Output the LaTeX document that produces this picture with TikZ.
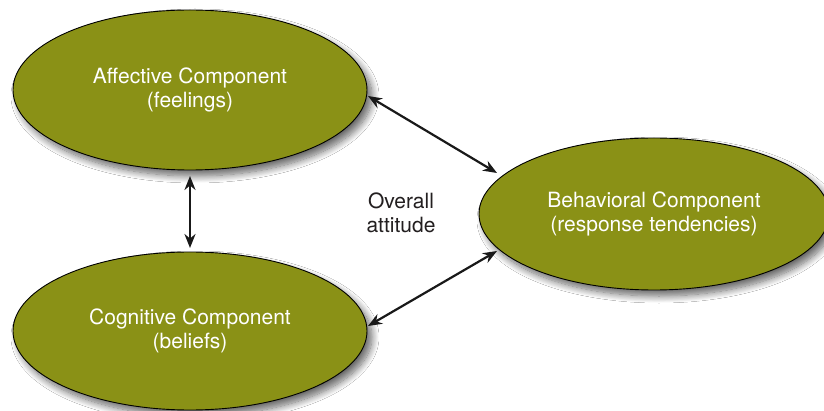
\documentclass[tikz,border=0pt]{standalone}
\usepackage{fontspec}
\setmainfont{TeX Gyre Heros}
\usetikzlibrary{shapes.geometric,arrows.meta,shadows.blur}
\definecolor{olive}{RGB}{138,145,22}
\definecolor{txtgray}{RGB}{35,31,32}
\tikzset{
  comp/.style={ellipse, draw=black, line width=0.9pt, fill=olive, text=white,
    align=center, font=\fontsize{21}{24}\selectfont, inner sep=0pt,
    blur shadow={shadow xshift=5pt, shadow yshift=-6pt, shadow blur steps=12, shadow blur radius=7pt, shadow opacity=60}},
  link/.style={{Stealth[length=14pt,width=11pt]}-{Stealth[length=14pt,width=11pt]}, line width=2.2pt, draw=black!90}
}
\begin{document}
\begin{tikzpicture}[x=1pt,y=-1pt]
\useasboundingbox[fill=white] (0,0) rectangle (824,411);
\node[comp, minimum width=354pt, minimum height=160pt] (aff) at (190,90) {Affective Component\\(feelings)};
\node[comp, minimum width=354pt, minimum height=158pt] (cog) at (190,331) {Cognitive Component\\(beliefs)};
\node[comp, minimum width=350pt, minimum height=152pt] (beh) at (654,214) {Behavioral Component\\(response tendencies)};
\node[text=txtgray, align=center, font=\fontsize{21}{24}\selectfont] (ov) at (401,213) {Overall\\attitude};
\coordinate (affB) at (190,176);
\coordinate (cogT) at (190,248);
\coordinate (affR) at (368,96);
\coordinate (behUL) at (497,173);
\coordinate (cogR) at (368,326);
\coordinate (behLL) at (497,251);
\draw[link] (affB) -- (cogT);
\draw[link] (affR) -- (behUL);
\draw[link] (cogR) -- (behLL);
\end{tikzpicture}
\end{document}
